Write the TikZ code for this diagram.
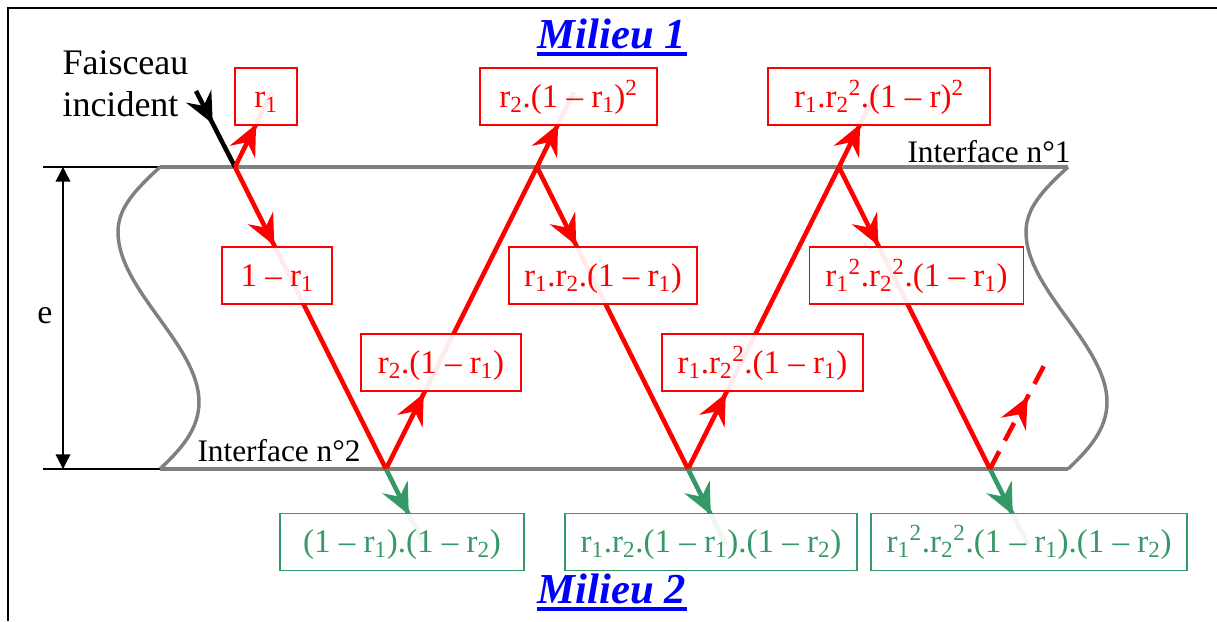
\documentclass[tikz,border=0pt]{standalone}
\usepackage{fontspec}
\setmainfont{Liberation Serif}
\usetikzlibrary{arrows.meta,decorations.markings}

\definecolor{raygreen}{RGB}{52,153,102}
\definecolor{ifgray}{RGB}{128,128,128}

\newcommand{\rsub}[1]{r\textsubscript{#1}}

\tikzset{every picture/.style={line width=0.75pt}}
\tikzset{
  ray/.style={draw=#1, line width=3.4pt},
  tipat/.style={postaction={decorate},
    decoration={markings, mark=at position #1 with {\arrow{Stealth[length=23pt,width=21pt,inset=8pt]}}}},
  coefbox/.style={draw=#1, text=#1, line width=0.9pt, fill=white, fill opacity=0.92, text opacity=1,
    font=\fontsize{24.75}{30}\selectfont, minimum height=42.75pt, text height=21pt, text depth=5pt, inner xsep=0pt},
  lbl/.style={inner sep=0pt, font=\fontsize{#1}{31.5}\selectfont},
  milieu/.style={text=blue, inner xsep=0pt, inner ysep=4pt, text depth=0pt, font=\fontsize{32}{38}\selectfont\bfseries\itshape},
}

\begin{document}
\begin{tikzpicture}[x=0.75pt,y=0.75pt,yscale=-1,xscale=1]
\useasboundingbox (0,0) rectangle (1217,621);

%Shape: Frame
\draw [line width=2.2pt] (8,621) -- (8,8) -- (1217,8) ;

%Straight Lines: Interface n°1 and n°2
\draw [line width=1.1pt] (43,167) -- (160,167) ;
\draw [line width=1.1pt] (43,469) -- (160,469) ;
\draw [color=ifgray, line width=2.6pt] (160,167) -- (1068,167) ;
\draw [color=ifgray, line width=2.6pt] (160,469) -- (1068,469) ;

%Curve Lines: broken edges of the plate
\foreach \dx in {0,908}
  \draw [color=ifgray, line width=2.6pt, shift={(\dx,0)}] (160,167) .. controls (135,190) and (118,208) .. (118,232) .. controls (118,290) and (199,345) .. (199,402) .. controls (199,430) and (180,450) .. (160,469) ;

%Straight Lines: thickness e
\coordinate (e1) at (63,167) ;
\coordinate (e2) at (63,469) ;
\draw [{Triangle[length=11pt,width=11pt]}-{Triangle[length=11pt,width=11pt]}, line width=1.1pt] (e1) -- (e2) ;

% Bounce points
\coordinate (i0) at (196,91) ;
\coordinate (a1) at (235,167) ;
\coordinate (b1) at (386,469) ;
\coordinate (a2) at (537,167) ;
\coordinate (b2) at (688,469) ;
\coordinate (a3) at (839,167) ;
\coordinate (b3) at (990,469) ;
\coordinate (t1) at (272,92) ;
\coordinate (t2) at (574,92) ;
\coordinate (t3) at (876,92) ;
\coordinate (g1) at (424,545) ;
\coordinate (g2) at (726,545) ;
\coordinate (g3) at (1028,545) ;
\coordinate (d3) at (1049,356) ;

%Straight Lines: rays
\draw [ray=black, tipat=0.43] (i0) -- (a1) ;
\draw [ray=red, tipat=0.57] (a1) -- (t1) ;
\draw [ray=red, tipat=0.26] (a1) -- (b1) ;
\draw [ray=red, tipat=0.25] (b1) -- (a2) ;
\draw [ray=raygreen, tipat=0.6] (b1) -- (g1) ;
\draw [ray=red, tipat=0.57] (a2) -- (t2) ;
\draw [ray=red, tipat=0.26] (a2) -- (b2) ;
\draw [ray=red, tipat=0.25] (b2) -- (a3) ;
\draw [ray=raygreen, tipat=0.6] (b2) -- (g2) ;
\draw [ray=red, tipat=0.57] (a3) -- (t3) ;
\draw [ray=red, tipat=0.26] (a3) -- (b3) ;
\draw [ray=raygreen, tipat=0.6] (b3) -- (g3) ;
\draw [ray=red, dash pattern=on 15pt off 9pt, tipat=0.64] (b3) -- (d3) ;

% Text Node
\node [coefbox=red, minimum width=46.5pt] (c1) at (266,96.5) {\rsub{1}};
% Text Node
\node [coefbox=red, minimum width=132.75pt] (c2) at (568.5,96.5) {\rsub{2}.(1 – \rsub{1})\textsuperscript{2}};
% Text Node
\node [coefbox=red, minimum width=166.5pt] (c3) at (879,96.5) {\rsub{1}.\rsub{2}\textsuperscript{2}.(1 – r)\textsuperscript{2}};
% Text Node
\node [coefbox=red, minimum width=82.5pt] (c4) at (277,275.5) {1 – \rsub{1}};
% Text Node
\node [coefbox=red, minimum width=141pt] (c5) at (603,275.5) {\rsub{1}.\rsub{2}.(1 – \rsub{1})};
% Text Node
\node [coefbox=red, minimum width=160pt] (c6) at (916.5,275.5) {\rsub{1}\textsuperscript{2}.\rsub{2}\textsuperscript{2}.(1 – \rsub{1})};
% Text Node
\node [coefbox=red, minimum width=120pt] (c7) at (441,362.5) {\rsub{2}.(1 – \rsub{1})};
% Text Node
\node [coefbox=red, minimum width=150.75pt] (c8) at (762.5,362.5) {\rsub{1}.\rsub{2}\textsuperscript{2}.(1 – \rsub{1})};
% Text Node
\node [coefbox=raygreen, minimum width=183pt] (g1box) at (402,542) {(1 – \rsub{1}).(1 – \rsub{2})};
% Text Node
\node [coefbox=raygreen, minimum width=219pt] (g2box) at (711,542) {\rsub{1}.\rsub{2}.(1 – \rsub{1}).(1 – \rsub{2})};
% Text Node
\node [coefbox=raygreen, minimum width=237pt] (g3box) at (1029,542) {\rsub{1}\textsuperscript{2}.\rsub{2}\textsuperscript{2}.(1 – \rsub{1}).(1 – \rsub{2})};

% Text Node
\node [lbl=27, align=left, anchor=north west] (beam) at (62,50) {Faisceau\\incident};
% Text Node
\node [lbl=23.5, anchor=base west] (if1) at (907,162) {Interface n°1};
% Text Node
\node [lbl=23.5, anchor=base west] (if2) at (197,461) {Interface n°2};
% Text Node
\node [lbl=25.5] (thick) at (45,316) {e};

% Text Node
\node [milieu, anchor=base] (m1) at (612,48) {Milieu 1};
\draw [blue, line width=3pt] (m1.south west) -- (m1.south east) ;
% Text Node
\node [milieu, anchor=base] (m2) at (612,603) {Milieu 2};
\draw [blue, line width=3pt] (m2.south west) -- (m2.south east) ;

\end{tikzpicture}
\end{document}
